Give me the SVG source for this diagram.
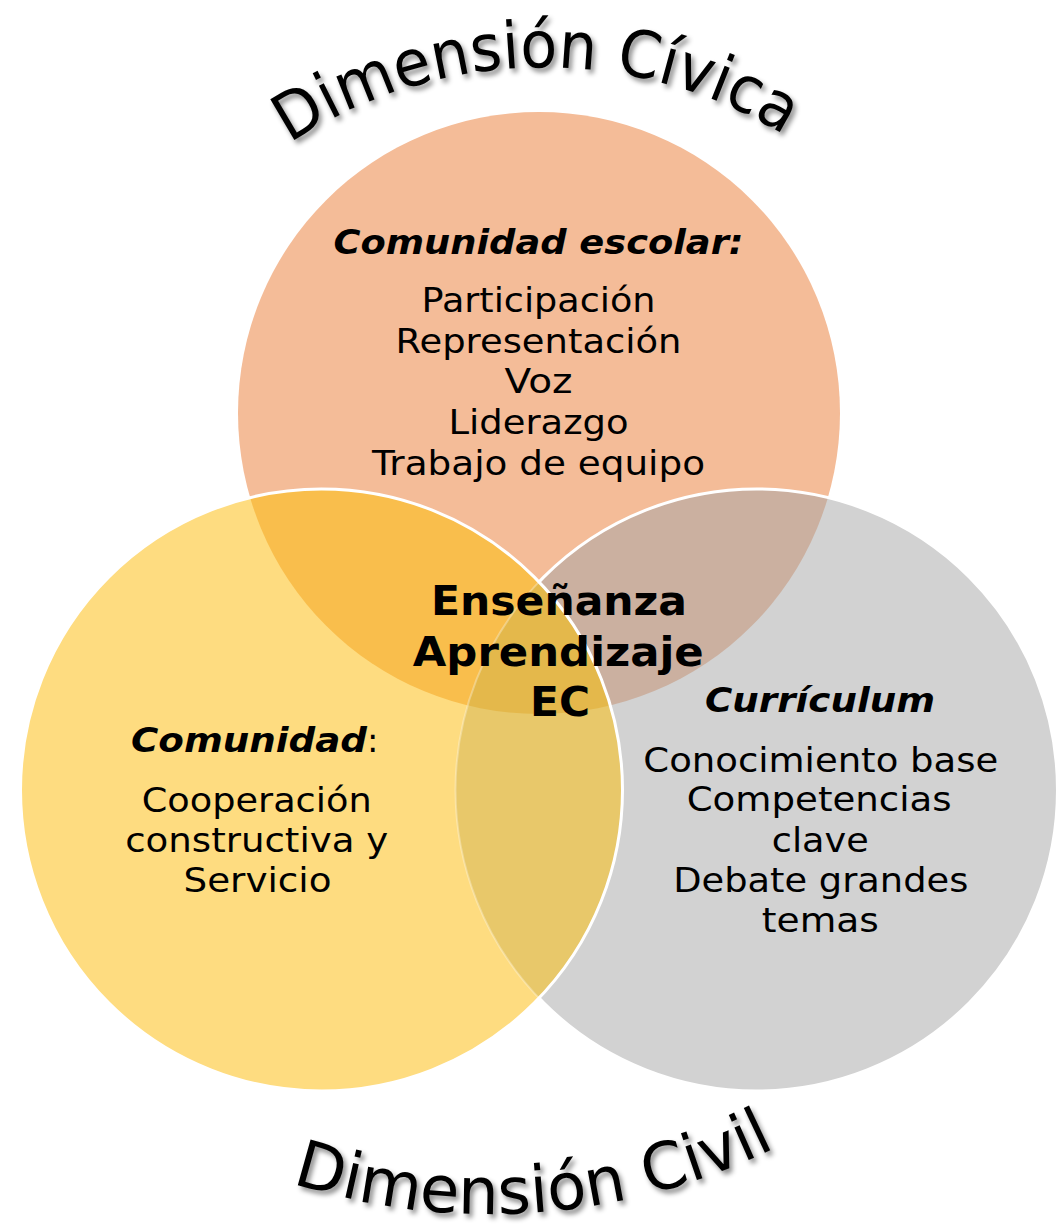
<svg xmlns="http://www.w3.org/2000/svg" width="1063" height="1230" viewBox="0 0 1063 1230">
  <style>
    text { font-family: "DejaVu Sans", Verdana, "Liberation Sans", sans-serif; fill: #000; }
    .reg { font-size: 34px; text-anchor: middle; }
    .bi { font-size: 34px; font-weight: bold; font-style: italic; }
    .ctr { font-size: 40px; font-weight: bold; text-anchor: middle; }
    .title { font-size: 65px; filter: url(#shadow); }
    .edge { fill: none; stroke: #FFFFFF; stroke-width: 3; }
  </style>
  <defs>
    <filter id="shadow" x="-10%" y="-30%" width="120%" height="160%">
      <feDropShadow dx="3" dy="4" stdDeviation="2.5" flood-color="#000" flood-opacity="0.45"/>
    </filter>
    <clipPath id="clipO"><circle cx="539" cy="413" r="301"/></clipPath>
    <clipPath id="clipY"><circle cx="321.5" cy="790" r="301"/></clipPath>
    <clipPath id="clipG"><circle cx="756.5" cy="790" r="301"/></clipPath>
    <mask id="outsideY">
      <rect x="0" y="0" width="1063" height="1230" fill="#fff"/>
      <circle cx="321.5" cy="790" r="301" fill="#000"/>
    </mask>
    <path id="arcTop" d="M 289.7,143.6 A 461 461 0 0 1 784.3,135.1"/>
    <path id="arcBottom" d="M 292,1183 A 647 647 0 0 0 776,1147.4"/>
  </defs>

  <g id="venn-fills">
    <circle id="fill-escolar" cx="539" cy="413" r="301" fill="#F4BC98"/>
    <circle id="fill-curriculum" cx="756.5" cy="790" r="301" fill="#D2D2D2"/>
    <circle id="fill-comunidad" cx="321.5" cy="790" r="301" fill="#FEDC80"/>
    <circle cx="756.5" cy="790" r="301" fill="#CBB0A0" clip-path="url(#clipO)"/>
    <circle cx="321.5" cy="790" r="301" fill="#F9BE4C" clip-path="url(#clipO)"/>
    <circle cx="321.5" cy="790" r="301" fill="#E8C86A" clip-path="url(#clipG)"/>
    <g clip-path="url(#clipG)">
      <circle cx="321.5" cy="790" r="301" fill="#E4B84B" clip-path="url(#clipO)"/>
    </g>
  </g>

  <g id="venn-edges">
    <circle class="edge" cx="756.5" cy="790" r="301" mask="url(#outsideY)"/>
    <circle cx="756.5" cy="790" r="301" fill="none" stroke="#FFFFFF" stroke-opacity="0.3" stroke-width="2" clip-path="url(#clipY)"/>
    <circle class="edge" cx="321.5" cy="790" r="301"/>
  </g>

  <g id="node-escolar">
    <text class="bi" x="538.5" y="254" text-anchor="middle" textLength="410" lengthAdjust="spacingAndGlyphs">Comunidad escolar:</text>
    <text class="reg" x="538.5" y="312" textLength="234" lengthAdjust="spacingAndGlyphs">Participación</text>
    <text class="reg" x="538.5" y="352.5" textLength="286" lengthAdjust="spacingAndGlyphs">Representación</text>
    <text class="reg" x="538.5" y="393" textLength="68" lengthAdjust="spacingAndGlyphs">Voz</text>
    <text class="reg" x="538.5" y="434" textLength="180" lengthAdjust="spacingAndGlyphs">Liderazgo</text>
    <text class="reg" x="538.5" y="475" textLength="333" lengthAdjust="spacingAndGlyphs">Trabajo de equipo</text>
  </g>

  <g id="node-comunidad">
    <text x="131" y="752" style="font-size:34px"><tspan class="bi" textLength="236" lengthAdjust="spacingAndGlyphs">Comunidad</tspan><tspan>:</tspan></text>
    <text class="reg" x="256.7" y="812" textLength="230" lengthAdjust="spacingAndGlyphs">Cooperación</text>
    <text class="reg" x="256.7" y="851.5" textLength="263" lengthAdjust="spacingAndGlyphs">constructiva y</text>
    <text class="reg" x="257.5" y="891.5" textLength="148" lengthAdjust="spacingAndGlyphs">Servicio</text>
  </g>

  <g id="node-curriculum">
    <text class="bi" x="820" y="712" text-anchor="middle" textLength="230" lengthAdjust="spacingAndGlyphs">Currículum</text>
    <text class="reg" x="820.8" y="772" textLength="355" lengthAdjust="spacingAndGlyphs">Conocimiento base</text>
    <text class="reg" x="819.2" y="811" textLength="265" lengthAdjust="spacingAndGlyphs">Competencias</text>
    <text class="reg" x="820.3" y="851.5" textLength="97" lengthAdjust="spacingAndGlyphs">clave</text>
    <text class="reg" x="820.8" y="892" textLength="295" lengthAdjust="spacingAndGlyphs">Debate grandes</text>
    <text class="reg" x="820.3" y="931.5" textLength="117" lengthAdjust="spacingAndGlyphs">temas</text>
  </g>

  <g id="node-centro">
    <text class="ctr" x="559" y="615" textLength="256" lengthAdjust="spacingAndGlyphs">Enseñanza</text>
    <text class="ctr" x="558.3" y="666" textLength="291" lengthAdjust="spacingAndGlyphs">Aprendizaje</text>
    <text class="ctr" x="560" y="716" textLength="60" lengthAdjust="spacingAndGlyphs">EC</text>
  </g>

  <g id="title-civica">
    <text class="title" textLength="522" lengthAdjust="spacingAndGlyphs"><textPath href="#arcTop">Dimensión Cívica</textPath></text>
  </g>

  <g id="title-civil">
    <text class="title" textLength="497" lengthAdjust="spacingAndGlyphs"><textPath href="#arcBottom">Dimensión Civil</textPath></text>
  </g>
</svg>
